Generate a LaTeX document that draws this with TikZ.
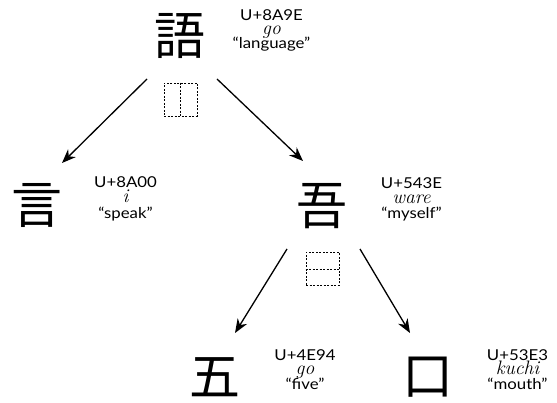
\documentclass[tikz,border=0pt]{standalone}
\usepackage{fontspec}
\setsansfont{Lato}[FakeStretch=1.12]
\newfontfamily\cjk{Noto Sans CJK JP}
\newfontfamily\romfont{Latin Modern Roman}
\usetikzlibrary{arrows.meta}
\begin{document}
\begin{tikzpicture}[x=1pt,y=-1pt,
  kanji/.style={inner sep=0pt,font=\cjk\fontsize{51}{51}\selectfont},
  info/.style={anchor=base,inner sep=0pt,text height=9pt,text depth=2pt,font=\sffamily\fontsize{15}{15}\selectfont},
  rom/.style={anchor=base,inner sep=0pt,text height=8pt,text depth=2pt,font=\romfont\itshape\fontsize{19.5}{15}\selectfont},
  dbox/.style={draw,dash pattern=on 2pt off 1.5pt,line width=0.6pt,minimum width=33pt,minimum height=33pt,inner sep=0pt},
  dline/.style={draw,dash pattern=on 2pt off 1.5pt,line width=0.6pt},
  arr/.style={-{Stealth[length=14pt,width=11pt,inset=4.5pt]},line width=1.3pt}]
\useasboundingbox (0,0) rectangle (557,403);
\node[kanji] (k1) at (180,36) {語};
\node[info] (l1a) at (271.5,20.5) {U+8A9E};
\node[rom]  (l1b) at (271.5,34.5) {go};
\node[info] (l1c) at (271.5,49) {“language”};
\node[dbox] (d1) at (180.5,99.5) {};
\draw[dline] (d1.north) -- (d1.south);

\node[kanji] (k2) at (37,205) {言};
\node[info] (l2a) at (125.5,187.5) {U+8A00};
\node[rom]  (l2b) at (125.5,202.5) {i};
\node[info] (l2c) at (125.5,218.5) {“speak”};

\node[kanji] (k3) at (322,206) {吾};
\node[info] (l3a) at (411.5,188.5) {U+543E};
\node[rom]  (l3b) at (411.5,203.5) {ware};
\node[info] (l3c) at (411.5,218.5) {“myself”};
\node[dbox] (d2) at (322.5,269) {};
\draw[dline] (d2.west) -- (d2.east);

\node[kanji] (k4) at (215,377) {五};
\node[info] (l4a) at (305,360.5) {U+4E94};
\node[rom]  (l4b) at (305,374.5) {go};
\node[info] (l4c) at (305,389) {“five”};

\node[kanji] (k5) at (428,377) {口};
\node[info] (l5a) at (517.5,360.5) {U+53E3};
\node[rom]  (l5b) at (517.5,374.5) {kuchi};
\node[info] (l5c) at (517.5,389) {“mouth”};

\draw[arr] ([shift={(-33,43)}]k1.center) -- ([shift={(25,-42)}]k2.center);
\draw[arr] ([shift={(37,43)}]k1.center) -- ([shift={(-19,-45)}]k3.center);
\draw[arr] ([shift={(-35,43)}]k3.center) -- ([shift={(20,-44)}]k4.center);
\draw[arr] ([shift={(38,43)}]k3.center) -- ([shift={(-18,-44)}]k5.center);
\end{tikzpicture}
\end{document}
